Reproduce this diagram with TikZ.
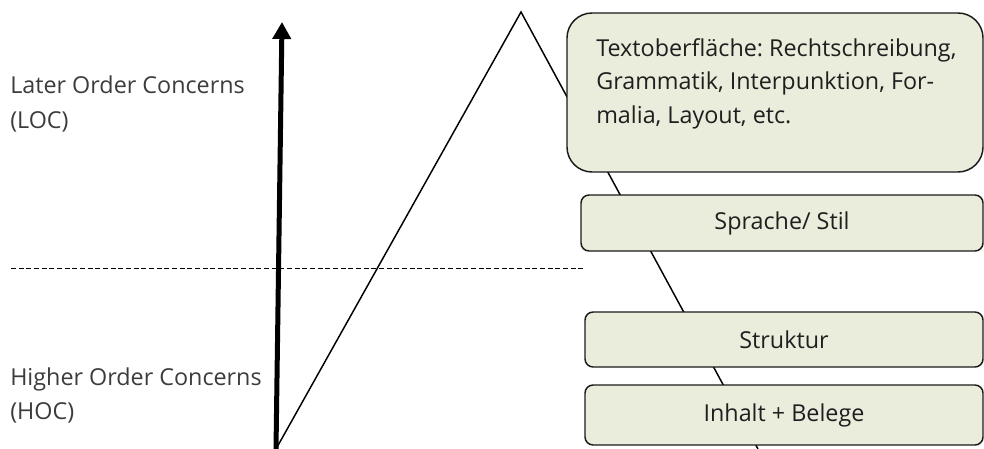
\documentclass[tikz,border=0pt]{standalone}
\usepackage{fontspec}
\setmainfont{Open Sans}
\usetikzlibrary{arrows.meta}
\definecolor{boxfill}{HTML}{EAEDDC}
\definecolor{boxline}{HTML}{1A1A1A}
\definecolor{labelgray}{HTML}{3C3C3C}
\frenchspacing
\begin{document}
\begin{tikzpicture}[x=0.75pt, y=-0.75pt,
    stufe/.style={draw=boxline, line width=1.1pt, fill=boxfill, rounded corners=6pt,
        inner sep=0pt, text=black!88, font=\fontsize{17.5}{25.5}\selectfont},
    seite/.style={anchor=base west, align=left, inner sep=0pt, text=labelgray,
        font=\fontsize{17.5}{25.5}\selectfont}]
    \useasboundingbox (0,0) rectangle (984,449);

    % 1. Zickzack und Pfeil
    \coordinate (fuss) at (276,449);
    \coordinate (spitze) at (521,12);
    \coordinate (ende) at (758,449);
    \coordinate (pfeilspitze) at (282,22);
    \draw[line width=1.1pt] (fuss) -- (spitze) -- (ende);
    \draw[line width=3.75pt, -{Triangle[length=12.75pt, width=13.5pt]}] (fuss) -- (pfeilspitze);

    % 2. Trennlinie
    \coordinate (trenn-a) at (11,268);
    \coordinate (trenn-b) at (585,268);
    \draw[line width=0.75pt, dash pattern=on 3.75pt off 2pt] (trenn-a) -- (trenn-b);

    % 3. Beschriftung links (Anker: Grundlinie der letzten Zeile)
    \node[seite] (loc) at (10,128) {Later Order Concerns\\(LOC)};
    \node[seite] (hoc) at (10,419) {Higher Order Concerns\\(HOC)};

    % 4. Kästen
    \node[stufe, rounded corners=18.75pt, minimum width=312pt, minimum height=119.25pt] (oberflaeche) at (775,92.5) {};
    \node[seite, text=black!88] (oberflaeche-text) at (596,124)
        {Textoberfläche: Rechtschreibung,\\Grammatik, Interpunktion, For-\\malia, Layout, etc.};
    \node[stufe, minimum width=301.5pt, minimum height=42pt] (sprache) at (782,223) {Sprache/ Stil};
    \node[stufe, minimum width=298.5pt, minimum height=41.25pt] (struktur) at (784,339.5) {Struktur};
    \node[stufe, minimum width=298.5pt, minimum height=45pt] (inhalt) at (784,415) {Inhalt + Belege};
\end{tikzpicture}
\end{document}
